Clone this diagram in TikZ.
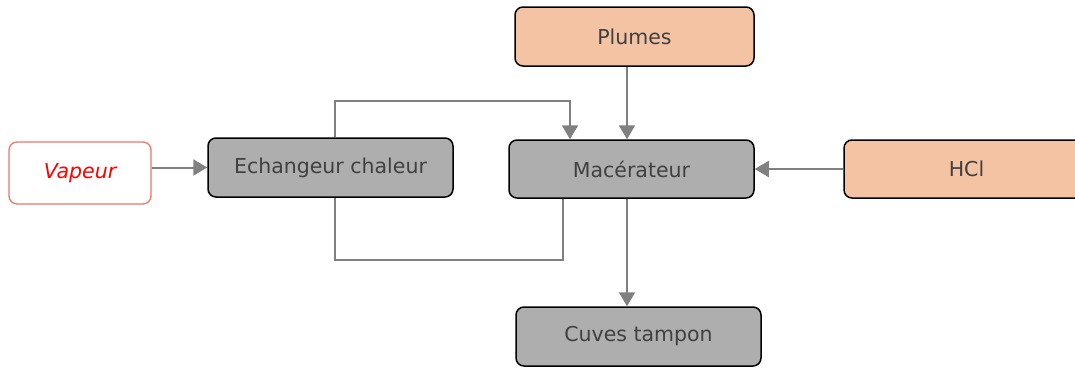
\documentclass[tikz,border=0pt]{standalone}
\usepackage{fontspec}
\setmainfont{DejaVu Sans}
\usetikzlibrary{arrows.meta}
\definecolor{boxgray}{HTML}{AEAEAE}
\definecolor{boxorange}{HTML}{F4C3A3}
\definecolor{linegray}{HTML}{808080}
\definecolor{txtgray}{HTML}{404040}
\definecolor{vapborder}{HTML}{E8776C}
\tikzset{
  proc/.style={draw=black, line width=1.5pt, rounded corners=8pt, fill=boxgray,
    minimum width=245pt, minimum height=59pt, inner sep=0pt,
    text=txtgray, font=\fontsize{20.5}{22}\selectfont},
  input/.style={proc, fill=boxorange},
  vap/.style={draw=vapborder, line width=1.3pt, rounded corners=8pt, fill=white,
    minimum width=142pt, minimum height=62pt, inner sep=0pt,
    text=red, font=\fontsize{20.5}{22}\selectfont\itshape},
  flow/.style={draw=linegray, line width=2pt, -{Triangle[length=14pt,width=16pt]}},
  link/.style={draw=linegray, line width=2pt}
}
\begin{document}
\begin{tikzpicture}[x=1pt,y=-1pt]
\useasboundingbox (0,0) rectangle (1075,367);
\begin{scope}
\clip (0,0) rectangle (1075,367);
\node[vap] (vap) at (80,173) {Vapeur};
\node[proc] (ech) at (330.5,167.5) {Echangeur chaleur};
\node[proc, minimum height=58pt] (mac) at (631.5,169) {Mac\'erateur};
\node[input, minimum width=239pt] (plu) at (634.5,36.5) {Plumes};
\node[input, minimum height=58pt] (hcl) at (966.5,169) {HCl};
\node[proc] (cuv) at (638.5,336.5) {Cuves tampon};

\coordinate (t1) at (335,101);
\coordinate (t2) at (570,101);
\coordinate (b1) at (335,260);
\coordinate (b2) at (563,260);
\coordinate (p1) at (627,0);

\draw[flow] (vap.east |- ech.west) -- (ech.west);
\draw[flow] (ech.north -| t1) -- (t1) -| (mac.north -| t2);
\draw[flow] (plu.south -| p1) -- (mac.north -| p1);
\draw[flow] (hcl.west) -- (mac.east);
\draw[link] (mac.south -| b2) -- (b2) -| (ech.south -| b1);
\draw[flow] (mac.south -| p1) -- (cuv.north -| p1);
\end{scope}
\end{tikzpicture}
\end{document}
